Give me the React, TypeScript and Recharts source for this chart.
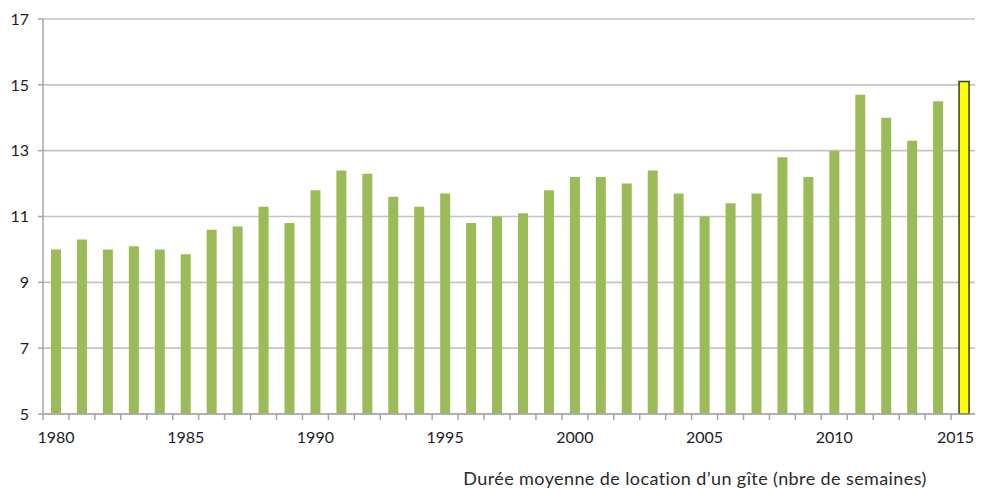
import React from 'react';
import { BarChart, Bar, XAxis, YAxis, CartesianGrid, Cell } from 'recharts';

const years = [
  1980, 1981, 1982, 1983, 1984, 1985, 1986, 1987, 1988, 1989,
  1990, 1991, 1992, 1993, 1994, 1995, 1996, 1997, 1998, 1999,
  2000, 2001, 2002, 2003, 2004, 2005, 2006, 2007, 2008, 2009,
  2010, 2011, 2012, 2013, 2014, 2015,
];
const weeks = [
  10.0, 10.3, 10.0, 10.1, 10.0, 9.85, 10.6, 10.7, 11.3, 10.8,
  11.8, 12.4, 12.3, 11.6, 11.3, 11.7, 10.8, 11.0, 11.1, 11.8,
  12.2, 12.2, 12.0, 12.4, 11.7, 11.0, 11.4, 11.7, 12.8, 12.2,
  13.0, 14.7, 14.0, 13.3, 14.5, 15.1,
];
const yTicks = [5, 7, 9, 11, 13, 15, 17];
const labelEvery = 5;
const highlightYear = 2015;
const title = 'Durée moyenne de location d\u2019un gîte (nbre de semaines)';

const data = years.map((y, i) => ({ year: y, value: weeks[i] }));

const W = 975;
const H = 480;
const M = { top: 11, right: 6, left: 0, bottom: 0 };
const Y_W = 35;
const X_H = 74;
const PLOT_W = W - M.left - M.right - Y_W;
const BAND = PLOT_W / years.length;
const FONT = 'Lato, "Open Sans", sans-serif';
const TEXT = '#1c1c2a';
const AXIS = '#a6a6a6';
const VISIBLE_RIGHT = W - 9;
const LABEL_HALF = 18;

const XTick = (props: any) => {
  const { x, y, payload, index } = props;
  const axisY = y - 8;
  const left = x - BAND / 2;
  const right = x + BAND / 2;
  const yr = Number(payload.value);
  const overflow = x + LABEL_HALF > VISIBLE_RIGHT;
  return (
    <g>
      <line x1={left} x2={left} y1={axisY} y2={axisY + 6} stroke={AXIS} strokeWidth={1.5} />
      {index === years.length - 1 && (
        <line x1={right} x2={right} y1={axisY} y2={axisY + 6} stroke={AXIS} strokeWidth={1.5} />
      )}
      {yr % labelEvery === 0 && (
        <text
          x={overflow ? VISIBLE_RIGHT : x}
          y={axisY + 29}
          textAnchor={overflow ? 'end' : 'middle'}
          fill={TEXT}
          fontSize={16}
          fontFamily={FONT}
        >
          {yr}
        </text>
      )}
    </g>
  );
};

export default function App() {
  return (
    <div style={{ width: W, height: H }}>
      <style>{'html{overflow:hidden}'}</style>
      <BarChart width={W} height={H} data={data} margin={M} barSize={10}>
        <CartesianGrid vertical={false} stroke="#c4c4c4" strokeWidth={1.6} />
        <XAxis
          dataKey="year"
          interval={0}
          height={X_H}
          tickLine={false}
          tickSize={6}
          tickMargin={2}
          axisLine={{ stroke: AXIS, strokeWidth: 1.5 }}
          tick={<XTick />}
          label={{
            value: title,
            position: 'insideBottom',
            dx: 185,
            offset: 3,
            fill: '#2a2a2a',
            fontSize: 18,
            letterSpacing: 0.4,
            fontFamily: FONT,
          }}
        />
        <YAxis
          width={Y_W}
          domain={[5, 17]}
          ticks={yTicks}
          interval={0}
          tickSize={5}
          tickMargin={9}
          tickLine={{ stroke: AXIS, strokeWidth: 1.5 }}
          axisLine={{ stroke: AXIS, strokeWidth: 1.5 }}
          tick={{ fill: TEXT, fontSize: 16, fontFamily: FONT }}
        />
        <Bar dataKey="value" isAnimationActive={false}>
          {data.map((d) => (
            <Cell
              key={d.year}
              fill={d.year === highlightYear ? '#ffff00' : '#9bbb59'}
              stroke={d.year === highlightYear ? '#3a3a1a' : 'none'}
              strokeWidth={d.year === highlightYear ? 1.5 : 0}
            />
          ))}
        </Bar>
      </BarChart>
    </div>
  );
}
